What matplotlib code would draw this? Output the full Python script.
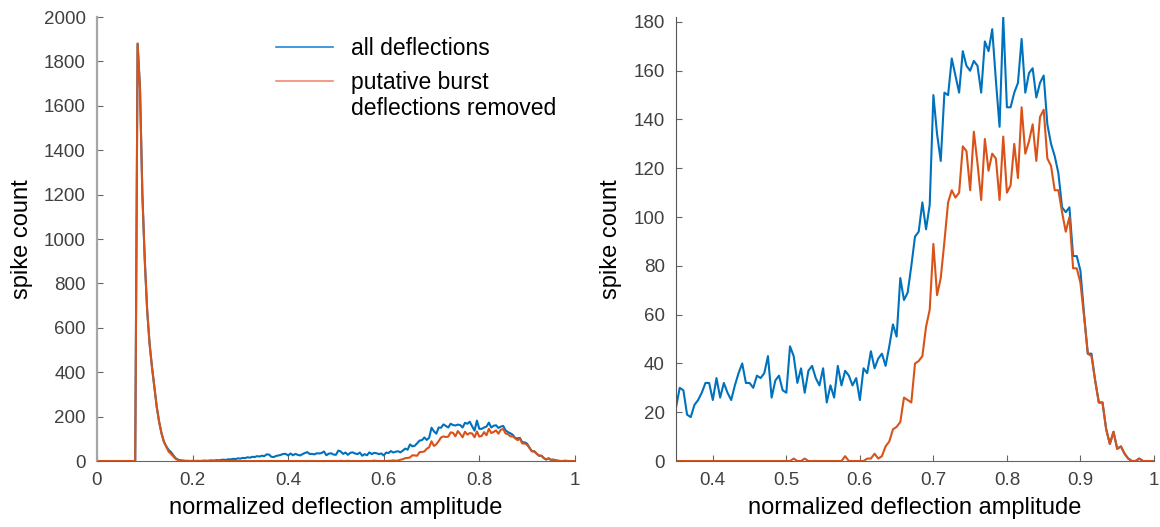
import numpy as np
import matplotlib
matplotlib.use("Agg")
import matplotlib.pyplot as plt
from matplotlib.ticker import FuncFormatter

# bin positions (normalized deflection amplitude)
amplitude = np.linspace(0, 1, 201)

# spike counts, all deflections
counts_all = [
    0, 0, 0, 0, 0, 0, 0, 0, 0, 0,
    0, 0, 0, 0, 0, 0, 0, 1880, 1680, 1200,
    905, 680, 530, 425, 335, 245, 177, 125, 87, 66,
    50, 40, 25, 12, 6, 3, 2, 1, 1, 0,
    1, 0, 1, 0, 1, 2, 1, 2, 3, 2,
    4, 3, 5, 6, 5, 8, 7, 10, 9, 12,
    11, 14, 13, 17, 15, 19, 18, 22, 20, 24,
    22, 30, 29, 19, 18, 23, 25, 28, 32, 32,
    25, 34, 26, 32, 28, 25, 31, 36, 40, 32,
    32, 30, 35, 34, 36, 43, 26, 33, 35, 29,
    28, 47, 43, 32, 38, 28, 37, 39, 34, 31,
    38, 24, 31, 26, 39, 31, 37, 35, 31, 34,
    25, 38, 36, 45, 38, 42, 44, 39, 47, 56,
    51, 75, 66, 69, 80, 92, 94, 106, 95, 105,
    150, 134, 123, 151, 150, 165, 158, 151, 168, 162,
    160, 164, 162, 151, 172, 168, 177, 156, 137, 182,
    145, 145, 151, 155, 173, 151, 159, 161, 149, 155,
    158, 138, 130, 125, 118, 104, 102, 104, 84, 84,
    78, 60, 44, 44, 33, 24, 24, 13, 7, 12,
    5, 6, 3, 1, 0, 0, 1, 0, 0, 0,
    0,
]

# spike counts, putative burst deflections removed
counts_removed = [
    0, 0, 0, 0, 0, 0, 0, 0, 0, 0,
    0, 0, 0, 0, 0, 0, 0, 1880, 1680, 1200,
    905, 680, 530, 425, 335, 245, 177, 125, 87, 65,
    42, 32, 20, 9, 4, 2, 1, 0, 0, 0,
    0, 0, 0, 0, 0, 0, 0, 0, 0, 0,
    0, 0, 0, 0, 0, 0, 0, 0, 0, 0,
    0, 0, 0, 0, 0, 0, 0, 0, 0, 0,
    0, 0, 0, 0, 0, 0, 0, 0, 0, 0,
    0, 0, 0, 0, 0, 0, 0, 0, 0, 0,
    0, 0, 0, 0, 0, 0, 0, 0, 0, 0,
    0, 0, 1, 0, 0, 1, 0, 0, 0, 0,
    0, 0, 0, 0, 0, 0, 2, 0, 0, 0,
    0, 0, 1, 1, 3, 1, 2, 6, 8, 13,
    14, 16, 26, 25, 24, 40, 41, 43, 55, 62,
    89, 68, 75, 90, 106, 111, 108, 110, 129, 127,
    111, 135, 122, 107, 132, 119, 126, 124, 107, 133,
    110, 113, 130, 116, 145, 126, 131, 138, 123, 141,
    144, 124, 121, 111, 111, 102, 94, 100, 79, 79,
    73, 59, 44, 43, 33, 24, 24, 13, 7, 12,
    5, 6, 3, 1, 0, 0, 1, 0, 0, 0,
    0,
]

labels = ["all deflections", "putative burst", "deflections removed"]

plt.rcParams["font.family"] = ["Liberation Sans", "DejaVu Sans"]

blue = "#0072BD"
red = "#D95319"
tick_col = "#404040"
fmt = FuncFormatter(lambda v, p: "%g" % round(v, 3))

fig = plt.figure(figsize=(11.6, 5.27), dpi=100)
ax1 = fig.add_axes([0.0836, 0.1252, 0.412, 0.8425])
ax2 = fig.add_axes([0.5828, 0.1252, 0.412, 0.8425])

for ax in (ax1, ax2):
    ax.plot(amplitude, counts_all, color=blue, lw=1.5, label=labels[0])
    ax.plot(amplitude, counts_removed, color=red, lw=1.5, label=labels[1])
    for s in ("top", "right"):
        ax.spines[s].set_visible(False)
    ax.spines["bottom"].set_color("#666666")
    ax.spines["left"].set_color("#555555")
    ax.tick_params(direction="in", length=4, colors="#666666", labelcolor=tick_col,
                   labelsize=13.5, pad=8)
    ax.xaxis.set_major_formatter(fmt)
    ax.set_xlabel("normalized deflection amplitude", fontsize=17, labelpad=6)
    ax.set_ylabel("spike count", fontsize=17, labelpad=8)

ax1.spines["left"].set_color("#a6a6a6")
ax1.spines["left"].set_linewidth(1.6)
ax1.set_xlim(0, 1)
ax1.set_ylim(0, 2000)
ax1.set_xticks([0, 0.2, 0.4, 0.6, 0.8, 1.0])
ax1.set_yticks(np.arange(0, 2001, 200))

ax2.set_xlim(0.35, 1.0)
ax2.set_ylim(0, 182)
ax2.set_xticks([0.4, 0.5, 0.6, 0.7, 0.8, 0.9, 1.0])
ax2.set_yticks(np.arange(0, 181, 20))

# legend (MATLAB style: handle aligned with first line of the second label)
leg = ax1.legend(loc="upper left", bbox_to_anchor=(0.238, 0.929),
                 bbox_transform=fig.transFigure, frameon=False, fontsize=16.5,
                 handlelength=2.5, handletextpad=0.75, borderpad=0,
                 labelspacing=0.45, borderaxespad=0)
leg.get_lines()[0].set_color("#1f88d8")
leg.get_lines()[1].set_color("#f08a70")
for h in leg.get_lines():
    h.set_linewidth(1.2)

fig.canvas.draw()
bb = leg.get_texts()[1].get_window_extent()
fig.text(bb.x0 / fig.bbox.width, (bb.y0 - 26) / fig.bbox.height, labels[2],
         fontsize=16.5, ha="left", va="bottom")

fig.savefig("out.png", dpi=100)
